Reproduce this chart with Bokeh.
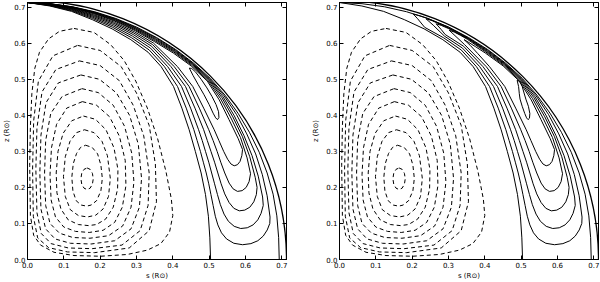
from math import pi
from bokeh.plotting import figure
from bokeh.models import Range1d, LinearAxis, FixedTicker
from bokeh.layouts import row
from bokeh.embed import file_html
from bokeh.resources import INLINE

# ---------------- data (s, z in solar radii) ----------------
boundary_radius = 0.713
tick_values = [0.0, 0.1, 0.2, 0.3, 0.4, 0.5, 0.6, 0.7]
tick_labels = ["0.0", "0.1", "0.2", "0.3", "0.4", "0.5", "0.6", "0.7"]
x_label = "s (R\u2299)"
y_label = "z (R\u2299)"

# negative (dashed) closed streamlines, innermost first
neg_1 = [(0.164, 0.254), (0.1725, 0.250), (0.1787, 0.239), (0.181, 0.224), (0.1787, 0.209), (0.1725, 0.198),
         (0.164, 0.194), (0.1555, 0.198), (0.1493, 0.209), (0.147, 0.224), (0.1493, 0.239), (0.1555, 0.250)]
neg_2 = [(0.160, 0.317), (0.178, 0.311), (0.193, 0.293), (0.202, 0.262), (0.206, 0.225), (0.202, 0.190),
         (0.190, 0.163), (0.175, 0.151), (0.163, 0.148), (0.148, 0.151), (0.134, 0.163), (0.125, 0.190),
         (0.122, 0.228), (0.126, 0.266), (0.135, 0.294), (0.146, 0.311)]
neg_3 = [(0.157, 0.360), (0.183, 0.352), (0.205, 0.328), (0.220, 0.288), (0.228, 0.225), (0.223, 0.175),
         (0.208, 0.140), (0.188, 0.123), (0.165, 0.118), (0.140, 0.122), (0.118, 0.138), (0.104, 0.175),
         (0.099, 0.230), (0.104, 0.285), (0.117, 0.328), (0.135, 0.352)]
neg_4 = [(0.154, 0.398), (0.187, 0.389), (0.216, 0.360), (0.238, 0.310), (0.249, 0.250), (0.248, 0.195),
         (0.236, 0.145), (0.215, 0.112), (0.190, 0.097), (0.168, 0.094), (0.140, 0.097), (0.112, 0.110),
         (0.092, 0.140), (0.081, 0.185), (0.079, 0.240), (0.084, 0.300), (0.098, 0.350), (0.122, 0.385)]
neg_5 = [(0.151, 0.438), (0.190, 0.428), (0.226, 0.396), (0.253, 0.342), (0.269, 0.275), (0.271, 0.205),
         (0.261, 0.145), (0.240, 0.103), (0.208, 0.081), (0.170, 0.075), (0.132, 0.078), (0.100, 0.090),
         (0.077, 0.118), (0.065, 0.165), (0.062, 0.235), (0.066, 0.310), (0.080, 0.375), (0.108, 0.420)]
neg_6 = [(0.150, 0.474), (0.195, 0.463), (0.236, 0.428), (0.267, 0.370), (0.287, 0.295), (0.293, 0.215),
         (0.285, 0.145), (0.262, 0.093), (0.223, 0.066), (0.172, 0.059), (0.125, 0.061), (0.088, 0.073),
         (0.062, 0.100), (0.050, 0.150), (0.047, 0.240), (0.050, 0.330), (0.064, 0.405), (0.095, 0.452)]
neg_7 = [(0.147, 0.512), (0.198, 0.500), (0.245, 0.462), (0.281, 0.400), (0.305, 0.320), (0.314, 0.225),
         (0.308, 0.145), (0.285, 0.085), (0.240, 0.052), (0.175, 0.043), (0.118, 0.045), (0.076, 0.057),
         (0.050, 0.085), (0.037, 0.140), (0.034, 0.240), (0.037, 0.345), (0.051, 0.435), (0.085, 0.490)]
neg_8 = [(0.143, 0.551), (0.200, 0.538), (0.253, 0.496), (0.291, 0.428), (0.320, 0.343), (0.335, 0.240),
         (0.332, 0.150), (0.310, 0.080), (0.260, 0.040), (0.178, 0.030), (0.112, 0.032), (0.065, 0.044),
         (0.038, 0.072), (0.026, 0.130), (0.023, 0.250), (0.026, 0.365), (0.040, 0.465), (0.078, 0.527)]
neg_9 = [(0.138, 0.594), (0.200, 0.580), (0.258, 0.535), (0.300, 0.462), (0.335, 0.372), (0.352, 0.265),
         (0.355, 0.160), (0.335, 0.080), (0.280, 0.032), (0.185, 0.019), (0.110, 0.021), (0.058, 0.033),
         (0.028, 0.060), (0.016, 0.120), (0.014, 0.250), (0.017, 0.385), (0.030, 0.495), (0.070, 0.565)]
neg_10 = [(0.128, 0.641), (0.183, 0.630), (0.229, 0.596), (0.266, 0.552), (0.298, 0.495), (0.330, 0.420),
          (0.358, 0.336), (0.381, 0.245), (0.396, 0.168), (0.400, 0.122), (0.391, 0.076), (0.367, 0.044),
          (0.330, 0.026), (0.275, 0.014), (0.201, 0.009), (0.128, 0.011), (0.073, 0.020), (0.036, 0.040),
          (0.017, 0.067), (0.008, 0.122), (0.006, 0.260), (0.008, 0.370), (0.012, 0.460), (0.020, 0.530),
          (0.033, 0.575), (0.058, 0.612), (0.088, 0.633)]

# positive (solid) streamlines, left panel
posL_A = [(0.4455, 0.531), (0.456, 0.510), (0.470, 0.485), (0.486, 0.457), (0.500, 0.430), (0.511, 0.406),
          (0.518, 0.393), (0.523, 0.388), (0.527, 0.394), (0.526, 0.410), (0.519, 0.430), (0.508, 0.452),
          (0.494, 0.476), (0.478, 0.500), (0.462, 0.521), (0.452, 0.530), (0.4455, 0.531)]
posL_B = [(0.0, 0.713), (0.0619, 0.7075), (0.1228, 0.6966), (0.1820, 0.6794), (0.2395, 0.6580), (0.2946, 0.6317),
          (0.3467, 0.6005), (0.413, 0.535), (0.455, 0.480), (0.485, 0.420), (0.514, 0.360), (0.527, 0.330),
          (0.540, 0.300), (0.551, 0.278), (0.560, 0.265), (0.569, 0.260), (0.578, 0.263), (0.585, 0.272),
          (0.590, 0.288), (0.592, 0.305), (0.5802, 0.335), (0.5546, 0.3883), (0.5278, 0.4429), (0.4950, 0.4950),
          (0.4506, 0.5370), (0.4012, 0.5730), (0.3492, 0.6047), (0.2962, 0.6351), (0.2406, 0.6610),
          (0.1827, 0.6819), (0.1230, 0.6980), (0.0620, 0.7083), (0.0, 0.713)]
posL_C = [(0.0, 0.713), (0.0619, 0.7068), (0.1226, 0.6953), (0.1814, 0.6771), (0.2384, 0.6550), (0.2929, 0.6281),
          (0.3443, 0.5962), (0.404, 0.535), (0.445, 0.480), (0.473, 0.420), (0.499, 0.360), (0.511, 0.330),
          (0.522, 0.300), (0.532, 0.270), (0.543, 0.240), (0.555, 0.212), (0.566, 0.196), (0.578, 0.189),
          (0.591, 0.191), (0.602, 0.200), (0.610, 0.216), (0.614, 0.238), (0.6045, 0.2819), (0.5863, 0.3385),
          (0.5603, 0.3923), (0.5316, 0.4461), (0.4967, 0.4967), (0.4522, 0.5389), (0.4030, 0.5755),
          (0.3506, 0.6072), (0.2972, 0.6373), (0.2412, 0.6628), (0.1831, 0.6834), (0.1232, 0.6988),
          (0.0620, 0.7087), (0.0, 0.713)]
posL_D = [(0.0, 0.713), (0.0618, 0.7060), (0.1223, 0.6938), (0.1807, 0.6746), (0.2372, 0.6517), (0.2910, 0.6241),
          (0.3416, 0.5916), (0.395, 0.535), (0.435, 0.480), (0.461, 0.420), (0.485, 0.360), (0.495, 0.330),
          (0.505, 0.300), (0.515, 0.270), (0.524, 0.240), (0.533, 0.210), (0.543, 0.182), (0.555, 0.158),
          (0.568, 0.142), (0.583, 0.135), (0.598, 0.137), (0.612, 0.145), (0.623, 0.160), (0.630, 0.180),
          (0.632, 0.200), (0.6268, 0.2281), (0.6118, 0.2853), (0.5915, 0.3415), (0.5652, 0.3958),
          (0.5351, 0.4490), (0.4985, 0.4985), (0.4538, 0.5408), (0.4044, 0.5775), (0.3521, 0.6098),
          (0.2981, 0.6394), (0.2419, 0.6646), (0.1834, 0.6846), (0.1233, 0.6997), (0.0621, 0.7091), (0.0, 0.713)]
posL_E = [(0.0, 0.713), (0.0617, 0.7052), (0.1220, 0.6921), (0.1800, 0.6718), (0.2358, 0.6480), (0.2890, 0.6197),
          (0.3386, 0.5865), (0.386, 0.535), (0.424, 0.480), (0.449, 0.420), (0.471, 0.360), (0.481, 0.330),
          (0.490, 0.300), (0.499, 0.270), (0.507, 0.240), (0.515, 0.210), (0.523, 0.180), (0.531, 0.152),
          (0.541, 0.126), (0.553, 0.106), (0.569, 0.092), (0.587, 0.086), (0.605, 0.088), (0.621, 0.096),
          (0.634, 0.110), (0.643, 0.128), (0.649, 0.150), (0.6472, 0.1734), (0.6352, 0.2312), (0.6181, 0.2882),
          (0.5958, 0.3440), (0.5693, 0.3987), (0.5381, 0.4516), (0.4999, 0.4999), (0.4551, 0.5423),
          (0.4056, 0.5793), (0.3533, 0.6119), (0.2990, 0.6412), (0.2424, 0.6661), (0.1837, 0.6858),
          (0.1235, 0.7004), (0.0621, 0.7094), (0.0, 0.713)]
posL_F = [(0.0, 0.713), (0.0617, 0.7043), (0.1217, 0.6903), (0.1792, 0.6688), (0.2344, 0.6442), (0.2868, 0.6150),
          (0.3355, 0.5810), (0.377, 0.535), (0.413, 0.480), (0.437, 0.420), (0.458, 0.360), (0.467, 0.330),
          (0.476, 0.300), (0.484, 0.270), (0.492, 0.240), (0.499, 0.210), (0.505, 0.180), (0.511, 0.150),
          (0.517, 0.120), (0.524, 0.096), (0.534, 0.074), (0.548, 0.057), (0.568, 0.045), (0.592, 0.041),
          (0.615, 0.044), (0.634, 0.052), (0.649, 0.065), (0.660, 0.082), (0.667, 0.100), (0.6677, 0.1177),
          (0.6597, 0.1768), (0.6465, 0.2353), (0.6281, 0.2929), (0.6036, 0.3485), (0.5751, 0.4027),
          (0.5412, 0.4541), (0.5013, 0.5013), (0.4561, 0.5435), (0.4069, 0.5811), (0.3546, 0.6141),
          (0.2998, 0.6430), (0.2428, 0.6672), (0.1839, 0.6865), (0.1235, 0.7007), (0.0621, 0.7095), (0.0, 0.713)]
pos_G_inner = [(0.0, 0.713), (0.0616, 0.7033), (0.1213, 0.6884), (0.1783, 0.6655), (0.2329, 0.6399),
               (0.2844, 0.6099), (0.332, 0.575), (0.368, 0.535), (0.402, 0.480), (0.425, 0.420), (0.445, 0.360),
               (0.462, 0.300), (0.478, 0.240), (0.490, 0.180), (0.498, 0.120), (0.502, 0.060), (0.504, 0.0)]
pos_G_outer = [(0.693, 0.0), (0.6914, 0.0605), (0.6864, 0.1210), (0.6761, 0.1812), (0.6597, 0.2401),
               (0.6380, 0.2975), (0.6110, 0.3528), (0.5796, 0.4058), (0.5435, 0.4561), (0.5028, 0.5028),
               (0.4572, 0.5448), (0.4079, 0.5826), (0.3555, 0.6157), (0.3006, 0.6446), (0.2433, 0.6686),
               (0.1842, 0.6875), (0.1236, 0.7012), (0.0621, 0.7097), (0.0, 0.713)]

# positive (solid) streamlines, right panel (loops close below the pole)
posR_A = [(0.489, 0.497), (0.493, 0.480), (0.495, 0.460), (0.497, 0.445), (0.503, 0.425), (0.510, 0.405),
          (0.515, 0.393), (0.519, 0.388), (0.523, 0.392), (0.524, 0.405), (0.520, 0.425), (0.513, 0.445),
          (0.508, 0.462), (0.503, 0.480), (0.496, 0.494), (0.489, 0.497)]
posR_B = [(0.343, 0.610), (0.360, 0.594), (0.380, 0.572), (0.413, 0.535), (0.455, 0.480), (0.485, 0.420),
          (0.514, 0.360), (0.527, 0.330), (0.540, 0.300), (0.551, 0.278), (0.560, 0.265), (0.569, 0.260),
          (0.578, 0.263), (0.585, 0.272), (0.590, 0.288), (0.592, 0.305), (0.5802, 0.335), (0.5546, 0.3883),
          (0.5278, 0.4429), (0.4950, 0.4950), (0.4506, 0.5370), (0.4012, 0.5730), (0.375, 0.590),
          (0.356, 0.602), (0.343, 0.610)]
posR_C = [(0.302, 0.636), (0.318, 0.621), (0.3443, 0.5962), (0.404, 0.535), (0.445, 0.480), (0.473, 0.420),
          (0.499, 0.360), (0.511, 0.330), (0.522, 0.300), (0.532, 0.270), (0.543, 0.240), (0.555, 0.212),
          (0.566, 0.196), (0.578, 0.189), (0.591, 0.191), (0.602, 0.200), (0.610, 0.216), (0.614, 0.238),
          (0.6045, 0.2819), (0.5863, 0.3385), (0.5603, 0.3923), (0.5316, 0.4461), (0.4967, 0.4967),
          (0.4522, 0.5389), (0.4030, 0.5755), (0.352, 0.611), (0.333, 0.622), (0.316, 0.631), (0.302, 0.636)]
posR_D = [(0.266, 0.654), (0.280, 0.638), (0.2910, 0.6241), (0.3416, 0.5916), (0.395, 0.535), (0.435, 0.480),
          (0.461, 0.420), (0.485, 0.360), (0.495, 0.330), (0.505, 0.300), (0.515, 0.270), (0.524, 0.240),
          (0.533, 0.210), (0.543, 0.182), (0.555, 0.158), (0.568, 0.142), (0.583, 0.135), (0.598, 0.137),
          (0.612, 0.145), (0.623, 0.160), (0.630, 0.180), (0.632, 0.200), (0.6268, 0.2281), (0.6118, 0.2853),
          (0.5915, 0.3415), (0.5652, 0.3958), (0.5351, 0.4490), (0.4985, 0.4985), (0.4538, 0.5408),
          (0.4044, 0.5775), (0.3535, 0.6123), (0.2990, 0.6412), (0.280, 0.6495), (0.266, 0.654)]
posR_E = [(0.238, 0.668), (0.258, 0.650), (0.2890, 0.6197), (0.3386, 0.5865), (0.386, 0.535), (0.424, 0.480),
          (0.449, 0.420), (0.471, 0.360), (0.481, 0.330), (0.490, 0.300), (0.499, 0.270), (0.507, 0.240),
          (0.515, 0.210), (0.523, 0.180), (0.531, 0.152), (0.541, 0.126), (0.553, 0.106), (0.569, 0.092),
          (0.587, 0.086), (0.605, 0.088), (0.621, 0.096), (0.634, 0.110), (0.643, 0.128), (0.649, 0.150),
          (0.6472, 0.1734), (0.6352, 0.2312), (0.6181, 0.2882), (0.5958, 0.3440), (0.5693, 0.3987),
          (0.5381, 0.4516), (0.4999, 0.4999), (0.4551, 0.5423), (0.4056, 0.5793), (0.3543, 0.6136),
          (0.2996, 0.6426), (0.255, 0.6625), (0.238, 0.668)]
posR_F = [(0.203, 0.681), (0.215, 0.668), (0.2344, 0.6442), (0.2868, 0.6150), (0.3355, 0.5810), (0.377, 0.535),
          (0.413, 0.480), (0.437, 0.420), (0.458, 0.360), (0.467, 0.330), (0.476, 0.300), (0.484, 0.270),
          (0.492, 0.240), (0.499, 0.210), (0.505, 0.180), (0.511, 0.150), (0.517, 0.120), (0.524, 0.096),
          (0.534, 0.074), (0.548, 0.057), (0.568, 0.045), (0.592, 0.041), (0.615, 0.044), (0.634, 0.052),
          (0.649, 0.065), (0.660, 0.082), (0.667, 0.100), (0.6677, 0.1177), (0.6597, 0.1768), (0.6465, 0.2353),
          (0.6281, 0.2929), (0.6036, 0.3485), (0.5751, 0.4027), (0.5412, 0.4541), (0.5013, 0.5013),
          (0.4561, 0.5435), (0.4069, 0.5811), (0.3546, 0.6141), (0.3005, 0.6444), (0.2433, 0.6686),
          (0.222, 0.676), (0.203, 0.681)]

dashed_contours = [neg_1, neg_2, neg_3, neg_4, neg_5, neg_6, neg_7, neg_8, neg_9, neg_10]
solid_left = [posL_A, posL_B, posL_C, posL_D, posL_E, posL_F, pos_G_inner, pos_G_outer]
solid_right = [posR_A, posR_B, posR_C, posR_D, posR_E, posR_F, pos_G_inner, pos_G_outer]

FONT = "DejaVu Sans"


def style_axis(ax, show_labels, label=None, label_standoff=3):
    ax.ticker = FixedTicker(ticks=tick_values)
    ax.major_tick_in = 4
    ax.major_tick_out = 0
    ax.minor_tick_line_color = None
    ax.axis_line_color = "black"
    ax.major_tick_line_color = "black"
    if show_labels:
        ax.major_label_overrides = dict(zip(tick_values, tick_labels))
        ax.major_label_text_font = FONT
        ax.major_label_text_font_size = "7px"
        ax.major_label_text_color = "black"
        ax.major_label_standoff = 2
        ax.axis_label = label
        ax.axis_label_text_font = FONT
        ax.axis_label_text_font_size = "7px"
        ax.axis_label_text_font_style = "normal"
        ax.axis_label_text_color = "black"
        ax.axis_label_standoff = label_standoff
    else:
        ax.major_label_text_font_size = "0px"
        ax.major_label_text_color = None
        ax.major_label_standoff = 0


def make_panel(solid, border_left, border_right, y_label_standoff):
    p = figure(width=300, height=282,
               x_range=Range1d(0, boundary_radius), y_range=Range1d(0, boundary_radius),
               output_backend="svg", toolbar_location=None,
               min_border_left=border_left, min_border_right=border_right,
               min_border_top=2, min_border_bottom=21)
    p.xgrid.visible = False
    p.ygrid.visible = False
    p.outline_line_color = "black"
    p.outline_line_width = 1
    p.background_fill_color = "white"
    p.border_fill_color = "white"

    xs = [[pt[0] for pt in c] + [c[0][0]] for c in dashed_contours]
    ys = [[pt[1] for pt in c] + [c[0][1]] for c in dashed_contours]
    p.multi_line(xs, ys, line_color="black", line_width=1, line_dash="4 3")

    sx = [[pt[0] for pt in c] for c in solid]
    sy = [[pt[1] for pt in c] for c in solid]
    p.multi_line(sx, sy, line_color="black", line_width=1)

    p.arc(x=[0], y=[0], radius=boundary_radius, start_angle=0, end_angle=pi / 2,
          line_color="black", line_width=1.3)

    style_axis(p.xaxis[0], True, x_label, label_standoff=1)
    style_axis(p.yaxis[0], True, y_label, label_standoff=y_label_standoff)
    top = LinearAxis()
    right = LinearAxis()
    style_axis(top, False)
    style_axis(right, False)
    p.add_layout(top, "above")
    p.add_layout(right, "right")
    return p


p_left = make_panel(solid_left, 27, 14, 0)
p_right = make_panel(solid_right, 39, 2, 3)

layout = row(p_left, p_right)

open("out.html", "w").write(file_html(layout, INLINE))
